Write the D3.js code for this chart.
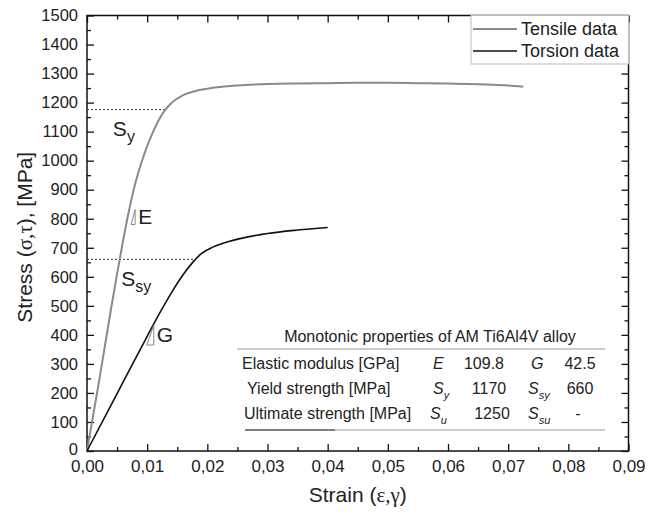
<!DOCTYPE html>
<html>
<head>
<meta charset="utf-8">
<script src="https://cdn.jsdelivr.net/npm/d3@7"></script>
<style>
  body { margin: 0; background: #fff; }
  svg text { font-family: "Liberation Sans", Arial, sans-serif; }
  svg tspan.greek { font-family: "Liberation Serif", "Times New Roman", serif; }
</style>
</head>
<body>
<svg id="chart"></svg>
<script>
// Chart size
var width = 649;
var height = 519;
var margin = { top: 15.5, right: 20, bottom: 68, left: 87 };

// Tensile curve (strain, stress in MPa)
var tensileStrain = [0, 0.001, 0.002, 0.003, 0.004, 0.005, 0.006, 0.007, 0.008, 0.009, 0.010, 0.011, 0.012, 0.013, 0.014, 0.015, 0.016, 0.018, 0.020, 0.025, 0.030, 0.035, 0.040, 0.045, 0.050, 0.055, 0.060, 0.065, 0.070, 0.0725];
var tensileStress = [0, 120, 240, 365, 490, 610, 725, 830, 920, 990, 1050, 1100, 1143, 1175, 1198, 1214, 1226, 1240, 1248, 1259, 1264, 1266, 1267, 1268, 1268, 1267, 1266, 1263, 1259, 1255];

// Torsion curve (strain, shear stress in MPa)
var torsionStrain = [0, 0.005, 0.010, 0.012, 0.014, 0.016, 0.0175, 0.019, 0.021, 0.023, 0.026, 0.030, 0.035, 0.040];
var torsionStress = [0, 198, 395, 472, 544, 608, 648, 680, 703, 718, 734, 749, 761, 770];

// Yield markers
var yieldValues = [1176, 660];
var yieldStrain = [0.0129, 0.0180];

// Axis ticks
var xTicks = [0, 0.01, 0.02, 0.03, 0.04, 0.05, 0.06, 0.07, 0.08, 0.09];
var yTicks = d3.range(0, 1501, 100);

// Legend
var legendNames = ["Tensile data", "Torsion data"];
var legendColors = ["#8a8a8a", "#111"];

// Table of properties
var tableTitle = "Monotonic properties of AM Ti6Al4V alloy";
var tableRows = ["Elastic modulus [GPa]", "Yield strength [MPa]", "Ultimate strength [MPa]"];
var tensileSymbols = [["E", ""], ["S", "y"], ["S", "u"]];
var tensileValues = ["109.8", "1170", "1250"];
var torsionSymbols = [["G", ""], ["S", "sy"], ["S", "su"]];
var torsionValues = ["42.5", "660", "-"];

var svg = d3.select("#chart")
    .attr("width", width)
    .attr("height", height);

var x = d3.scaleLinear().domain([0, 0.09]).range([margin.left, width - margin.right - 0.5]);
var y = d3.scaleLinear().domain([0, 1500]).range([451, margin.top]);

var textColor = "#222";
var fmtX = function (d) { return d3.format(".2f")(d).replace(".", ","); };
var fmtY = d3.format("d");

// Frame
svg.append("rect")
    .attr("x", x(0)).attr("y", y(1500))
    .attr("width", x(0.09) - x(0)).attr("height", y(0) - y(1500))
    .attr("fill", "none").attr("stroke", "#111").attr("stroke-width", 1.5);

// Function to draw ticks on a side (inward)
function drawAxis(axis, transform, labels, size) {
    var g = svg.append("g").attr("transform", transform).call(axis);
    g.attr("font-family", null).attr("font-size", size || 17);
    g.select(".domain").remove();
    g.selectAll(".tick line").attr("stroke", "#111").attr("stroke-width", 1.3);
    if (!labels) g.selectAll(".tick text").remove();
    else g.selectAll(".tick text").attr("fill", textColor);
    return g;
}

var xMinor = d3.range(0.005, 0.09, 0.01);
var yMinor = d3.range(50, 1500, 100);

drawAxis(d3.axisBottom(x).tickValues(xTicks).tickSizeInner(-7).tickSizeOuter(0).tickPadding(9).tickFormat(fmtX), "translate(0," + y(0) + ")", true, 17);
drawAxis(d3.axisBottom(x).tickValues(xMinor).tickSizeInner(-4).tickSizeOuter(0), "translate(0," + y(0) + ")", false);
drawAxis(d3.axisTop(x).tickValues(xTicks).tickSizeInner(-7).tickSizeOuter(0), "translate(0," + y(1500) + ")", false);
drawAxis(d3.axisTop(x).tickValues(xMinor).tickSizeInner(-4).tickSizeOuter(0), "translate(0," + y(1500) + ")", false);

var yAxisG = drawAxis(d3.axisLeft(y).tickValues(yTicks).tickSizeInner(-7).tickSizeOuter(0).tickPadding(9).tickFormat(fmtY), "translate(" + x(0) + ",0)", true, 16.5);
yAxisG.selectAll(".tick text").filter(function (d) { return d === 0; }).attr("dy", "0.2em");
drawAxis(d3.axisLeft(y).tickValues(yMinor).tickSizeInner(-4).tickSizeOuter(0), "translate(" + x(0) + ",0)", false);
drawAxis(d3.axisRight(y).tickValues(yTicks).tickSizeInner(-7).tickSizeOuter(0), "translate(" + x(0.09) + ",0)", false);
drawAxis(d3.axisRight(y).tickValues(yMinor).tickSizeInner(-4).tickSizeOuter(0), "translate(" + x(0.09) + ",0)", false);

// Axis titles
var xt = svg.append("text")
    .attr("x", (x(0) + x(0.09)) / 2).attr("y", 502)
    .attr("text-anchor", "middle").attr("font-size", 21).attr("fill", textColor);
xt.append("tspan").text("Strain (");
xt.append("tspan").attr("class", "greek").text("ε,γ");
xt.append("tspan").text(")");

var yt = svg.append("text")
    .attr("transform", "translate(32," + (y(750) + 4) + ") rotate(-90)")
    .attr("text-anchor", "middle").attr("font-size", 21).attr("fill", textColor);
yt.append("tspan").text("Stress (");
yt.append("tspan").attr("class", "greek").text("σ,τ");
yt.append("tspan").text("), [MPa]");

// Dashed yield lines
svg.selectAll("line.yield")
    .data(yieldValues)
    .enter().append("line")
    .attr("class", "yield")
    .attr("x1", x(0))
    .attr("x2", function (d, i) { return x(yieldStrain[i]); })
    .attr("y1", function (d) { return y(d); })
    .attr("y2", function (d) { return y(d); })
    .attr("stroke", "#333").attr("stroke-width", 1).attr("stroke-dasharray", "2,2");

// Curves
var line = d3.line()
    .x(function (d) { return x(d[0]); })
    .y(function (d) { return y(d[1]); })
    .curve(d3.curveMonotoneX);

svg.append("path")
    .datum(tensileStrain.map(function (s, i) { return [s, tensileStress[i]]; }))
    .attr("d", line).attr("fill", "none")
    .attr("stroke", legendColors[0]).attr("stroke-width", 2);

svg.append("path")
    .datum(torsionStrain.map(function (s, i) { return [s, torsionStress[i]]; }))
    .attr("d", line).attr("fill", "none")
    .attr("stroke", legendColors[1]).attr("stroke-width", 1.6);

// Slope triangles and labels
function slopeTriangle(sx, sy, w, h, label) {
    var px = x(sx), py = y(sy);
    svg.append("path")
        .attr("d", "M" + (px - w) + "," + py + "L" + px + "," + py + "L" + px + "," + (py - h) + "Z")
        .attr("fill", "none").attr("stroke", "#888").attr("stroke-width", 1);
    svg.append("text")
        .attr("x", px + 3).attr("y", py - h / 2 + 7)
        .attr("font-size", 21).attr("fill", textColor)
        .text(label);
}
slopeTriangle(0.008, 780, 4, 15, "E");
slopeTriangle(0.0111, 365, 7, 20, "G");

// S_y and S_sy labels
function subLabel(sx, sy, main, sub) {
    var t = svg.append("text")
        .attr("x", x(sx)).attr("y", y(sy))
        .attr("font-size", 21).attr("fill", textColor);
    t.append("tspan").text(main);
    t.append("tspan").attr("dy", 6).attr("font-size", 16).text(sub);
}
subLabel(0.0043, 1085, "S", "y");
subLabel(0.0057, 570, "S", "sy");

// Legend
var legend = svg.append("g");
legend.append("rect")
    .attr("x", 471).attr("y", y(1500))
    .attr("width", x(0.09) - 471).attr("height", 64 - y(1500))
    .attr("fill", "#fff").attr("stroke", "#bbb").attr("stroke-width", 1);
legendNames.forEach(function (name, i) {
    var ly = 29 + i * 22;
    legend.append("line")
        .attr("x1", 473).attr("x2", 517).attr("y1", ly).attr("y2", ly)
        .attr("stroke", legendColors[i]).attr("stroke-width", i === 0 ? 2 : 1.6);
    legend.append("text")
        .attr("x", 521).attr("y", ly + 6)
        .attr("font-size", 18).attr("fill", textColor)
        .text(name);
});

// Properties table
var table = svg.append("g").attr("font-size", 16).attr("fill", textColor);
table.append("text")
    .attr("x", 430).attr("y", 342).attr("text-anchor", "middle")
    .text(tableTitle);
table.append("line")
    .attr("x1", 237).attr("x2", 605).attr("y1", 349).attr("y2", 349)
    .attr("stroke", "#999").attr("stroke-width", 1);

var rowY = [369, 394, 419];
var rowX = [242, 247, 244];
var sym1X = [433, 433, 430];
var val1X = [484, 489, 492];
var sym2X = [531, 528, 528];
var val2X = [580, 580, 578];
tableRows.forEach(function (name, i) {
    table.append("text").attr("x", rowX[i]).attr("y", rowY[i]).text(name);

    var s1 = table.append("text").attr("x", sym1X[i]).attr("y", rowY[i]).attr("font-style", "italic");
    s1.append("tspan").text(tensileSymbols[i][0]);
    s1.append("tspan").attr("dy", 5).attr("font-size", 11).text(tensileSymbols[i][1]);

    table.append("text").attr("x", val1X[i]).attr("y", rowY[i]).attr("text-anchor", "middle").text(tensileValues[i]);

    var s2 = table.append("text").attr("x", sym2X[i]).attr("y", rowY[i]).attr("font-style", "italic");
    s2.append("tspan").text(torsionSymbols[i][0]);
    s2.append("tspan").attr("dy", 5).attr("font-size", 11).text(torsionSymbols[i][1]);

    table.append("text").attr("x", val2X[i]).attr("y", rowY[i]).attr("text-anchor", "middle").text(torsionValues[i]);
});
table.append("line")
    .attr("x1", 245).attr("x2", 605).attr("y1", 430).attr("y2", 430)
    .attr("stroke", "#999").attr("stroke-width", 1);
table.append("line")
    .attr("x1", 245).attr("x2", 335).attr("y1", 430).attr("y2", 430)
    .attr("stroke", "#333").attr("stroke-width", 1);
</script>
</body>
</html>
